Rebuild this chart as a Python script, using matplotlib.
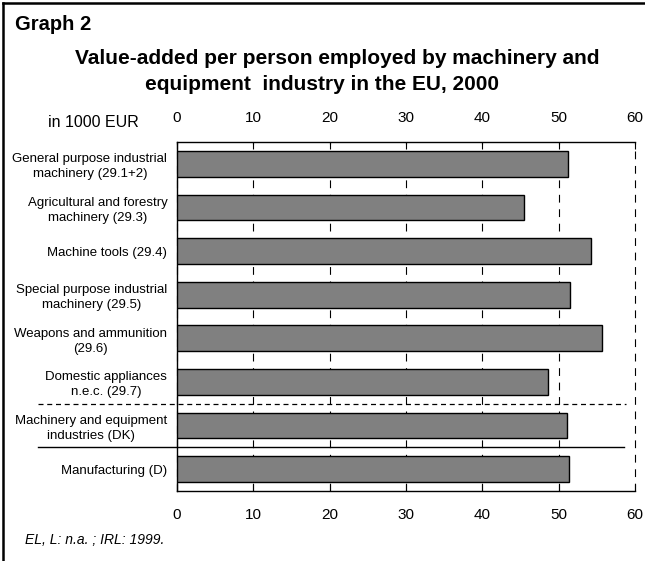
import matplotlib.pyplot as plt
from matplotlib.lines import Line2D

plt.rcParams['font.family'] = ['Liberation Sans', 'DejaVu Sans']

# data
categories = [
    "General purpose industrial\nmachinery (29.1+2)",
    "Agricultural and forestry\nmachinery (29.3)",
    "Machine tools (29.4)",
    "Special purpose industrial\nmachinery (29.5)",
    "Weapons and ammunition\n(29.6)",
    "Domestic appliances\nn.e.c. (29.7)",
    "Machinery and equipment\nindustries (DK)",
    "Manufacturing (D)",
]
values = [51.2, 45.5, 54.2, 51.5, 55.7, 48.6, 51.1, 51.4]
x_ticks = [0, 10, 20, 30, 40, 50, 60]

W, H = 645, 561
fig = plt.figure(figsize=(W / 100, H / 100), dpi=100)
ax = fig.add_axes([177 / W, 1 - 491 / H, 458 / W, 349 / H])

ypos = list(range(len(categories)))
ax.barh(ypos, values, height=0.59, color='#808080', edgecolor='black',
        linewidth=1.0, zorder=3)

ax.set_xlim(0, 60)
ax.set_ylim(len(categories) - 0.5, -0.5)
ax.set_xticks(x_ticks)
ax.set_yticks(ypos)
ax.set_yticklabels(categories, fontsize=9.5, multialignment='center', linespacing=1.3)
ax.tick_params(axis='y', length=0, pad=7)
ax.tick_params(axis='x', direction='in', length=5, width=0.8, labelsize=11, pad=12,
               top=True, bottom=True, labeltop=True, labelbottom=True)

ax.xaxis.grid(True, color='black', linestyle=(0, (7, 6)), linewidth=0.8, zorder=0)
for gl in ax.get_xgridlines():
    gl.set_clip_on(False)
ax.yaxis.grid(False)
ax.spines['right'].set_visible(False)
for s in ['top', 'left', 'bottom']:
    ax.spines[s].set_linewidth(1.0)

# separators between groups
ax.plot([(38 - 177) / 458, (626 - 177) / 458], [5.5, 5.5], transform=ax.get_yaxis_transform(),
        color='black', linestyle=(0, (4, 3)), linewidth=0.9, clip_on=False)
ax.plot([(38 - 177) / 458, (624 - 177) / 458], [6.5, 6.5], transform=ax.get_yaxis_transform(),
        color='black', linewidth=1.0, clip_on=False)

# texts
fig.text(15 / W, 1 - 25 / H, "Graph 2", fontsize=14.5, fontweight='bold', va='center')
fig.text(337 / W, 1 - 58 / H, "Value-added per person employed by machinery and",
         fontsize=15, fontweight='bold', ha='center', va='center')
fig.text(322 / W, 1 - 85 / H, "equipment  industry in the EU, 2000",
         fontsize=15, fontweight='bold', ha='center', va='center')
fig.text(93 / W, 1 - 122 / H, "in 1000 EUR", fontsize=11.5, ha='center', va='center')
fig.text(25 / W, 1 - 540 / H, "EL, L: n.a. ; IRL: 1999.", fontsize=10, style='italic',
         va='center')

# frame (left and top edges only)
fig.add_artist(Line2D([3 / W, 3 / W], [0, 1 - 3 / H], transform=fig.transFigure,
                      color='black', linewidth=1.8))
fig.add_artist(Line2D([3 / W, 1], [1 - 3 / H, 1 - 3 / H], transform=fig.transFigure,
                      color='black', linewidth=1.8))

fig.savefig('out.png', dpi=100)
